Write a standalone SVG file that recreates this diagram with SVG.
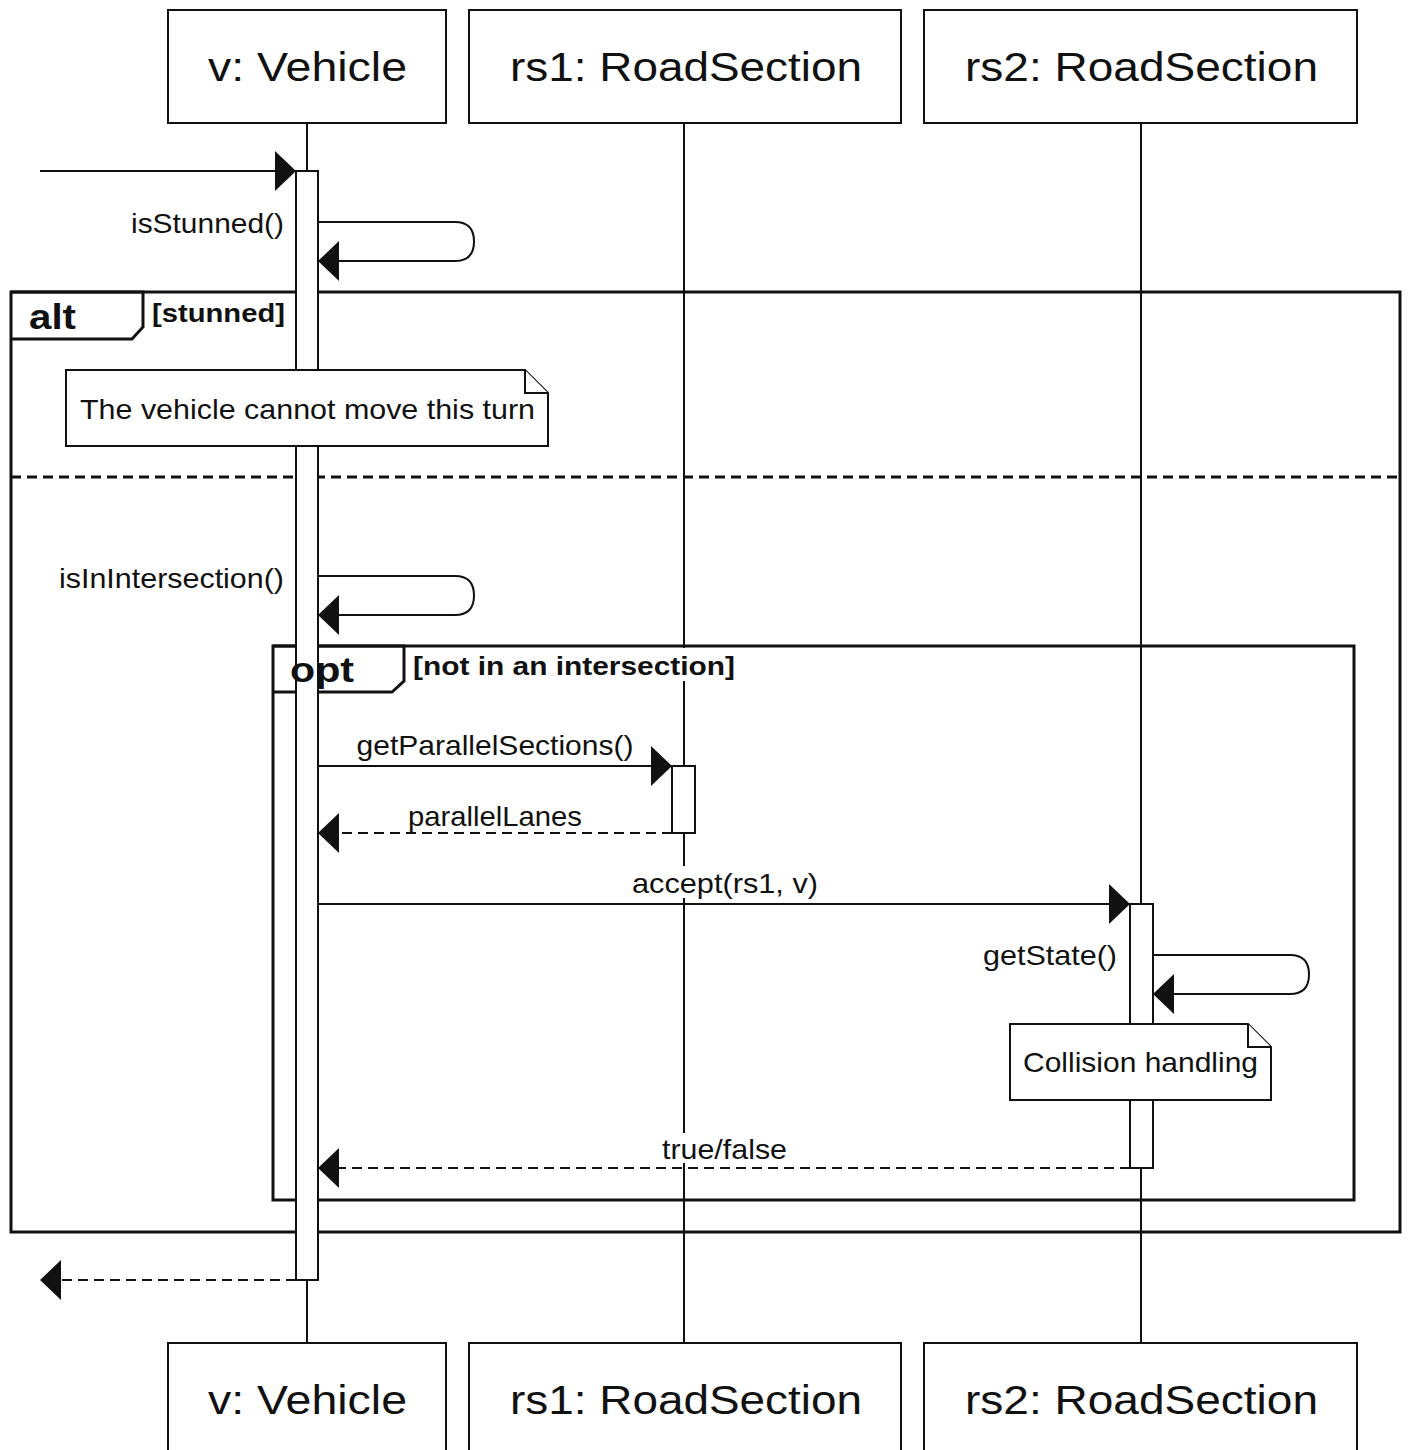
<svg xmlns="http://www.w3.org/2000/svg" width="1410" height="1450" viewBox="0 0 1410 1450">
<style>
text{font-family:"Liberation Sans",Arial,Helvetica,sans-serif;fill:#111}
.hdr{font-size:40px;text-anchor:middle}
.lbl{font-size:28px}
.mid{text-anchor:middle}
.end{text-anchor:end}
.kw{font-size:35px;font-weight:bold}
.grd{font-size:26px;font-weight:bold}
.bg{fill:#fff;stroke:none}
.box{fill:#fff;stroke:#111;stroke-width:2}
.life{stroke:#111;stroke-width:2;fill:none}
.act{fill:#fff;stroke:#111;stroke-width:2}
.frame{fill:none;stroke:#111;stroke-width:3}
.sep{fill:none;stroke:#111;stroke-width:3;stroke-dasharray:10,6}
.msg{fill:none;stroke:#111;stroke-width:2;marker-end:url(#ah)}
.ret{fill:none;stroke:#111;stroke-width:2;stroke-dasharray:10,6;marker-end:url(#ah)}
.note{fill:#fff;stroke:#111;stroke-width:2}
</style>
<defs>
<marker id="ah" viewBox="0 0 21 40" refX="21" refY="20" markerWidth="21" markerHeight="40" markerUnits="userSpaceOnUse" orient="auto">
<path d="M0,0 L21,20 L0,40 Z" fill="#111" stroke="none"/>
</marker>
</defs>
<rect width="1410" height="1450" fill="#fff"/>

<g id="frames">
<g id="alt">
<rect class="frame" x="11" y="292" width="1389" height="940"/>
<path class="frame" d="M11 292 H143 V327 L132 339 H11"/>
<line class="sep" x1="11" y1="477" x2="1400" y2="477"/>
</g>
<g id="opt">
<rect class="frame" x="273" y="646" width="1081" height="554"/>
<path class="frame" d="M273 646 H404 V681 L392 692 H273"/>
</g>
</g>

<g id="lifelines">
<line class="life" x1="307" y1="123" x2="307" y2="1343"/>
<line class="life" x1="684" y1="123" x2="684" y2="1343"/>
<line class="life" x1="1141" y1="123" x2="1141" y2="1343"/>
</g>

<g id="v">
<rect class="box" x="168" y="10" width="278" height="113"/>
<text class="hdr" x="307.5" y="81" textLength="199" lengthAdjust="spacingAndGlyphs">v: Vehicle</text>
<rect class="box" x="168" y="1343" width="278" height="113"/>
<text class="hdr" x="307.5" y="1414" textLength="199" lengthAdjust="spacingAndGlyphs">v: Vehicle</text>
<rect class="act" x="296" y="171" width="22" height="1109"/>
</g>
<g id="rs1">
<rect class="box" x="469" y="10" width="432" height="113"/>
<text class="hdr" x="686" y="81" textLength="352" lengthAdjust="spacingAndGlyphs">rs1: RoadSection</text>
<rect class="box" x="469" y="1343" width="432" height="113"/>
<text class="hdr" x="686" y="1414" textLength="352" lengthAdjust="spacingAndGlyphs">rs1: RoadSection</text>
<rect class="act" x="672" y="766" width="23" height="67"/>
</g>
<g id="rs2">
<rect class="box" x="924" y="10" width="433" height="113"/>
<text class="hdr" x="1141.5" y="81" textLength="353" lengthAdjust="spacingAndGlyphs">rs2: RoadSection</text>
<rect class="box" x="924" y="1343" width="433" height="113"/>
<text class="hdr" x="1141.5" y="1414" textLength="353" lengthAdjust="spacingAndGlyphs">rs2: RoadSection</text>
<rect class="act" x="1130" y="904" width="23" height="264"/>
</g>

<g id="frame-labels">
<text class="kw" x="29" y="329" textLength="47" lengthAdjust="spacingAndGlyphs">alt</text>
<text class="grd" x="152" y="322" textLength="133" lengthAdjust="spacingAndGlyphs">[stunned]</text>
<text class="kw" x="290" y="682" textLength="64" lengthAdjust="spacingAndGlyphs">opt</text>
<rect class="bg" x="411" y="648" width="326" height="33"/>
<text class="grd" x="413" y="675" textLength="322" lengthAdjust="spacingAndGlyphs">[not in an intersection]</text>
</g>

<g id="note1">
<path class="note" d="M66 370 H525 L548 393 V446 H66 Z"/>
<path class="note" d="M525 370 V393 H548" fill="none"/>
<text class="lbl" x="80" y="419" textLength="455" lengthAdjust="spacingAndGlyphs">The vehicle cannot move this turn</text>
</g>
<g id="note2">
<path class="note" d="M1010 1024 H1248 L1271 1047 V1100 H1010 Z"/>
<path class="note" d="M1248 1024 V1047 H1271" fill="none"/>
<text class="lbl" x="1023" y="1072" textLength="235" lengthAdjust="spacingAndGlyphs">Collision handling</text>
</g>

<g id="connectors">
<path class="msg" d="M40 171 H296"/>
<path class="msg" d="M318 222 H455 Q474 222 474 241.5 Q474 261 455 261 H318"/>
<text class="lbl end" x="284" y="233" textLength="153" lengthAdjust="spacingAndGlyphs">isStunned()</text>
<path class="msg" d="M318 576 H455 Q474 576 474 595.5 Q474 615 455 615 H318"/>
<text class="lbl end" x="284" y="588" textLength="225" lengthAdjust="spacingAndGlyphs">isInIntersection()</text>
<path class="msg" d="M318 766 H672"/>
<text class="lbl mid" x="495" y="755" textLength="277" lengthAdjust="spacingAndGlyphs">getParallelSections()</text>
<path class="ret" d="M672 833 H318"/>
<text class="lbl mid" x="495" y="826" textLength="174" lengthAdjust="spacingAndGlyphs">parallelLanes</text>
<path class="msg" d="M318 904 H1130"/>
<rect class="bg" x="630" y="866" width="190" height="32"/>
<text class="lbl mid" x="725" y="893" textLength="186" lengthAdjust="spacingAndGlyphs">accept(rs1, v)</text>
<path class="msg" d="M1153 955 H1290 Q1309 955 1309 974.5 Q1309 994 1290 994 H1153"/>
<text class="lbl end" x="1117" y="965" textLength="134" lengthAdjust="spacingAndGlyphs">getState()</text>
<path class="ret" d="M1130 1168 H318"/>
<rect class="bg" x="660" y="1133" width="129" height="30"/>
<text class="lbl mid" x="724.5" y="1159" textLength="125" lengthAdjust="spacingAndGlyphs">true/false</text>
<path class="ret" d="M296 1280 H40"/>
</g>
</svg>
